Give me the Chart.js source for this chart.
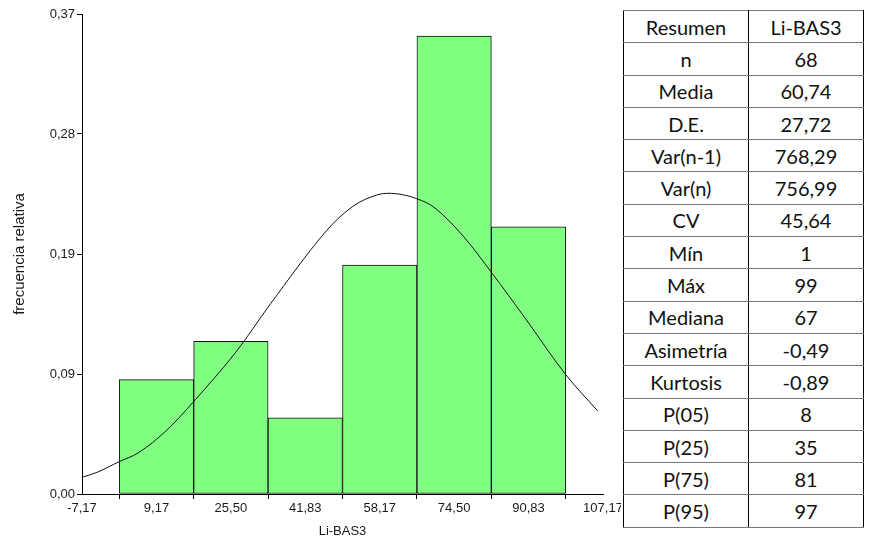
<!DOCTYPE html>
<html>
<head>
<meta charset="utf-8">
<script src="https://cdn.jsdelivr.net/npm/chart.js@4/dist/chart.umd.min.js"></script>
<style>
  html, body { margin: 0; padding: 0; background: #fff; }
  #wrap { position: relative; width: 869px; height: 539px; overflow: hidden; background: #fff; }
  #c { position: absolute; left: 0; top: 0; }
  #tblbox { position: absolute; left: 621px; top: 0; width: 248px; height: 539px; background: #fff; }
  table { position: absolute; left: 2px; top: 10px; border-collapse: collapse; font-family: Lato, "Open Sans", sans-serif; font-size: 20px; color: #111; }
  td { height: 31.3px; padding: 0; text-align: center; border-top: 1px solid #777; border-bottom: 1px solid #777; border-left: 1px solid #000; border-right: 1px solid #000; line-height: 1; }
  td.a { width: 124px; }
  td.b { width: 114px; }
</style>
</head>
<body>
<div id="wrap">
  <canvas id="c" width="640" height="539"></canvas>
  <div id="tblbox"><table id="tbl"></table></div>
</div>
<script>
// ---- data ----
const binMids = [9.17, 25.50, 41.83, 58.17, 74.50, 90.83];
const relFreq = [0.0882, 0.1176, 0.0588, 0.1765, 0.3529, 0.2059];
const curveX = [-7.17, -3.80, 0.91, 5.22, 11.10, 17.14, 26.40, 34.24, 46.00, 52.27, 57.76, 61.68, 66.23, 70.31, 76.58, 82.86, 89.91, 99.00, 105.99];
const curveY = [0.0129, 0.0168, 0.0248, 0.0318, 0.0481, 0.0705, 0.1085, 0.1468, 0.2010, 0.2217, 0.2307, 0.2315, 0.2277, 0.2204, 0.1984, 0.1700, 0.1364, 0.0920, 0.0641];
const xTickValues = [-7.17, 9.17, 25.50, 41.83, 58.17, 74.50, 90.83, 107.17];
const xTickLabels = ["-7,17", "9,17", "25,50", "41,83", "58,17", "74,50", "90,83", "107,17"];
const yTickValues = [0, 0.0925, 0.185, 0.2775, 0.37];
const yTickLabels = ["0,00", "0,09", "0,19", "0,28", "0,37"];
const summaryLabels = ["Resumen", "n", "Media", "D.E.", "Var(n-1)", "Var(n)", "CV", "Mín", "Máx", "Mediana", "Asimetría", "Kurtosis", "P(05)", "P(25)", "P(75)", "P(95)"];
const summaryValues = ["Li-BAS3", "68", "60,74", "27,72", "768,29", "756,99", "45,64", "1", "99", "67", "-0,49", "-0,89", "8", "35", "81", "97"];

// ---- table ----
const tbl = document.getElementById('tbl');
summaryLabels.forEach((lab, i) => {
  const tr = document.createElement('tr');
  const a = document.createElement('td'); a.className = 'a'; a.textContent = lab;
  const b = document.createElement('td'); b.className = 'b'; b.textContent = summaryValues[i];
  tr.appendChild(a); tr.appendChild(b); tbl.appendChild(tr);
});

// ---- chart ----
const tickFont = { family: "'Liberation Sans', Arial, sans-serif", size: 13 };
const yTitleFont = { family: "'Liberation Sans', Arial, sans-serif", size: 15 };
new Chart(document.getElementById('c'), {
  data: {
    datasets: [
      {
        type: 'line',
        data: curveX.map((x, i) => ({ x: x, y: curveY[i] })),
        borderColor: '#111',
        borderWidth: 1,
        pointRadius: 0,
        tension: 0.35,
        fill: false,
        order: 0
      },
      {
        type: 'bar',
        data: binMids.map((x, i) => ({ x: x, y: relFreq[i] })),
        backgroundColor: '#80FF80',
        borderColor: '#111',
        borderWidth: 1,
        borderSkipped: false,
        barPercentage: 1,
        categoryPercentage: 1,
        order: 1
      }
    ]
  },
  options: {
    responsive: false,
    devicePixelRatio: 1,
    animation: false,
    events: [],
    layout: { padding: { top: 14, right: 37, left: 0, bottom: 0 } },
    plugins: { legend: { display: false }, tooltip: { enabled: false } },
    scales: {
      x: {
        type: 'linear',
        min: -7.17,
        max: 107.17,
        offset: false,
        afterBuildTicks: (s) => { s.ticks = xTickValues.map(v => ({ value: v })); },
        afterFit: (s) => { s.height = 45; },
        ticks: {
          autoSkip: false, maxRotation: 0, padding: 2, color: '#1a1a1a', font: tickFont,
          callback: (v, i) => xTickLabels[i]
        },
        grid: { display: true, drawOnChartArea: false, drawTicks: true, tickLength: 5, color: '#000', lineWidth: 1 },
        border: { display: true, color: '#000', width: 1 },
        title: { display: true, text: 'Li-BAS3', color: '#1a1a1a', font: tickFont, padding: { top: 1, bottom: 0 } }
      },
      y: {
        type: 'linear',
        min: 0,
        max: 0.37,
        afterBuildTicks: (s) => { s.ticks = yTickValues.map(v => ({ value: v })); },
        afterFit: (s) => { s.width = 82; },
        ticks: {
          autoSkip: false, padding: 2, color: '#1a1a1a', font: tickFont,
          callback: (v, i) => yTickLabels[i]
        },
        grid: { display: true, drawOnChartArea: false, drawTicks: true, tickLength: 5, color: '#000', lineWidth: 1 },
        border: { display: true, color: '#000', width: 1 },
        title: { display: true, text: 'frecuencia relativa', color: '#1a1a1a', font: yTitleFont, padding: { top: 11, bottom: 0 } }
      }
    }
  }
});
</script>
</body>
</html>
